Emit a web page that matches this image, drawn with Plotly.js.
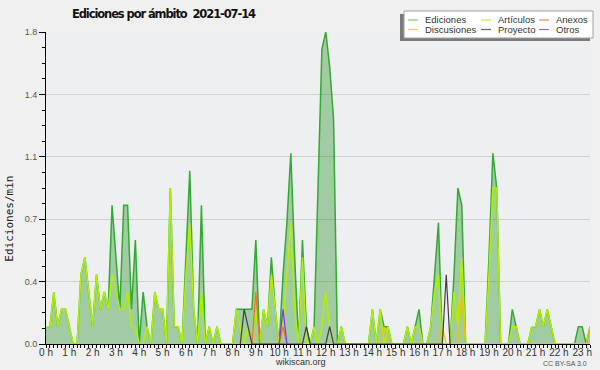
<!DOCTYPE html>
<html>
<head>
<meta charset="utf-8">
<script src="https://cdn.plot.ly/plotly-3.0.1.min.js"></script>
<style>
html, body { margin: 0; padding: 0; background: #f0f0f0; }
#chart { width: 600px; height: 370px; outline: 2px solid #aaaaaa; outline-offset: -2px; }
#chart .gtitle { letter-spacing: -1.1px; }
</style>
</head>
<body>
<div id="chart"></div>
<script>
// Ediciones por minuto, promedio por intervalo de 10 minutos (0:00 - 23:20)
const ediciones = [
  0.1,0.1,0.3,0.1,0.2,0.2,0.1,0,0,0.4,0.5,0.3,
  0.1,0.4,0.2,0.3,0.2,0.8,0.5,0.2,0.8,0.8,0.2,0.6,
  0,0.3,0.1,0,0.3,0.2,0.2,0,0.9,0.1,0.1,0,
  0.5,1.0,0.2,0,0.8,0,0.1,0,0.1,0,0,0,
  0,0.2,0.2,0.2,0.2,0.2,0.6,0,0.2,0.1,0.5,0.2,
  0,0.4,0.7,1.1,0.5,0,0.6,0.1,0,0.1,0.9,1.7,
  1.8,1.6,1.3,0,0.1,0,0,0,0,0,0,0,
  0.2,0,0.2,0.1,0.1,0,0,0,0,0.1,0,0.1,
  0.2,0,0,0.1,0.4,0.7,0,0,0,0.4,0.9,0.8,
  0,0,0,0,0,0,0.5,1.1,0.9,0,0,0,
  0.2,0.1,0,0,0,0.1,0.1,0.2,0.1,0.2,0.1,0,
  0,0,0,0,0,0.1,0.1,0,0.1
];
const articulos = [
  0.1,0.1,0.3,0.1,0.2,0.2,0.1,0,0,0.4,0.5,0.3,
  0.1,0.4,0.2,0.3,0.2,0.4,0.3,0.2,0.2,0.3,0.1,0.1,
  0,0,0.1,0,0.3,0.2,0.2,0,0.9,0.1,0.1,0,
  0.4,0.7,0.2,0,0.3,0,0.1,0,0.1,0,0,0,
  0,0.2,0.1,0,0.1,0,0.2,0,0.2,0.1,0.4,0.2,
  0,0.1,0.4,0.7,0.2,0,0.5,0,0,0.1,0,0.1,
  0.3,0.1,0,0,0.1,0,0,0,0,0,0,0,
  0.2,0,0.2,0,0.1,0,0,0,0,0.1,0,0.1,
  0.1,0,0,0.1,0.3,0.4,0,0,0,0.3,0.1,0.5,
  0,0,0,0,0,0,0.4,0.9,0.9,0,0,0,
  0.1,0.1,0,0,0,0.1,0.1,0.2,0.1,0.2,0.1,0,
  0,0,0,0,0,0,0,0,0
];
// Series dispersas: índice del intervalo de 10 min y valor
const anexosIdx = [53,54,55,60,61,62];
const anexosVal = [0,0.3,0,0,0.1,0];
const discusionesIdx = [86,87,88,101,102,103,106,107,108,139,140];
const discusionesVal = [0,0.1,0,0,0.1,0,0,0.3,0,0,0.1];
const proyectoIdx = [50,51,52,53,66,67,68,72,73,74,102,103,104];
const proyectoVal = [0,0.2,0.1,0,0,0.1,0,0,0.1,0,0,0.4,0];
const otrosIdx = [60,61,62];
const otrosVal = [0,0.2,0];

const xTickVals = [0,1,2,3,4,5,6,7,8,9,10,11,12,13,14,15,16,17,18,19,20,21,22,23];
const xTickText = ['0 h','1 h','2 h','3 h','4 h','5 h','6 h','7 h','8 h','9 h','10 h','11 h','12 h','13 h','14 h','15 h','16 h','17 h','18 h','19 h','20 h','21 h','22 h','23 h'];
const yTickVals = [0,0.36,0.72,1.08,1.44,1.8];
const yTickText = ['0.0','0.4','0.7','1.1','1.4','1.8'];

const seriesNames = ['Ediciones','Artículos','Anexos','Discusiones','Proyecto','Otros'];
const colors = {
  Ediciones: '#33aa33', Artículos: '#b0f000', Anexos: '#f07030',
  Discusiones: '#f0c400', Proyecto: '#404040', Otros: '#9030f0'
};
const legendColors = {
  Ediciones: '#77cc77', Artículos: '#c4f040', Anexos: '#f08a5a',
  Discusiones: '#f5d040', Proyecto: '#666666', Otros: '#a060f5'
};

const toHour = i => i / 6;
const horas = ediciones.map((_, i) => toHour(i));

const traces = [
  { x: horas, y: ediciones, type: 'scatter', mode: 'lines', name: 'Ediciones',
    line: { color: colors.Ediciones, width: 1.5 }, fill: 'tozeroy', fillcolor: 'rgba(45,150,45,0.40)',
    hoverinfo: 'skip', showlegend: false },
  { x: horas, y: articulos, type: 'scatter', mode: 'lines', name: 'Artículos',
    line: { color: colors['Artículos'], width: 1.5 }, hoverinfo: 'skip', showlegend: false },
  { x: discusionesIdx.map(toHour), y: discusionesVal, type: 'scatter', mode: 'lines', name: 'Discusiones',
    line: { color: colors.Discusiones, width: 1.2 }, hoverinfo: 'skip', showlegend: false },
  { x: anexosIdx.map(toHour), y: anexosVal, type: 'scatter', mode: 'lines', name: 'Anexos',
    line: { color: colors.Anexos, width: 1.2 }, hoverinfo: 'skip', showlegend: false },
  { x: proyectoIdx.map(toHour), y: proyectoVal, type: 'scatter', mode: 'lines', name: 'Proyecto',
    line: { color: colors.Proyecto, width: 1.2 }, hoverinfo: 'skip', showlegend: false },
  { x: otrosIdx.map(toHour), y: otrosVal, type: 'scatter', mode: 'lines', name: 'Otros',
    line: { color: colors.Otros, width: 1.2 }, hoverinfo: 'skip', showlegend: false }
];

// layout helpers: pixel -> paper
const PL = 46, PR = 590, PT = 32, PB = 344;
const px = x => (x - PL) / (PR - PL);
const py = y => (PB - y) / (PB - PT);

const shapes = [
  { type: 'rect', xref: 'paper', yref: 'paper', x0: px(400), x1: px(590), y0: py(41), y1: py(14),
    fillcolor: '#7a7a7a', line: { width: 0 }, layer: 'above' },
  { type: 'rect', xref: 'paper', yref: 'paper', x0: px(404), x1: px(593), y0: py(38), y1: py(11),
    fillcolor: '#ffffff', line: { color: '#a0a0a0', width: 1 }, layer: 'above' }
];
const annotations = [];
const legendPos = [
  [408, 20], [481, 20], [539, 20],
  [408, 29.5], [481, 29.5], [539, 29.5]
];
seriesNames.forEach((name, k) => {
  const [lx, ly] = legendPos[k];
  shapes.push({ type: 'line', xref: 'paper', yref: 'paper', x0: px(lx), x1: px(lx + 10), y0: py(ly), y1: py(ly),
    line: { color: legendColors[name], width: 1.2 }, layer: 'above' });
  annotations.push({ xref: 'paper', yref: 'paper', x: px(lx + 15), y: py(ly), xanchor: 'left', yanchor: 'middle',
    text: name, showarrow: false, font: { family: 'Liberation Sans, Arial, sans-serif', size: 9.5, color: '#333' } });
});
annotations.push({ xref: 'paper', yref: 'paper', x: px(10), y: py(218.7), text: 'Ediciones/min', textangle: -90,
  showarrow: false, xanchor: 'center', yanchor: 'middle',
  font: { family: 'DejaVu Sans Mono, monospace', size: 11, color: '#222' } });
annotations.push({ xref: 'paper', yref: 'paper', x: px(300), y: py(362), text: 'wikiscan.org',
  showarrow: false, xanchor: 'center', yanchor: 'middle',
  font: { family: 'Liberation Sans, Arial, sans-serif', size: 9, color: '#333' } });
annotations.push({ xref: 'paper', yref: 'paper', x: px(589), y: py(363), text: 'CC BY-SA 3.0',
  showarrow: false, xanchor: 'right', yanchor: 'middle',
  font: { family: 'Liberation Sans, Arial, sans-serif', size: 7, color: '#555' } });

const layout = {
  width: 600, height: 370,
  margin: { l: PL, r: 600 - PR, t: PT, b: 370 - PB, pad: 0 },
  paper_bgcolor: '#f0f0f0', plot_bgcolor: '#eeeff1',
  showlegend: false,
  title: { text: '<b>Ediciones por ámbito  2021-07-14</b>', xref: 'container', yref: 'container',
    x: 163.5 / 600, y: 1 - 14 / 370, xanchor: 'center', yanchor: 'middle',
    font: { family: 'DejaVu Sans, sans-serif', size: 11.5, color: '#111' } },
  xaxis: {
    range: [0, 140 / 6], tickmode: 'array', tickvals: xTickVals, ticktext: xTickText,
    ticks: 'outside', ticklen: 3, tickcolor: '#000', tickwidth: 1, ticklabelstandoff: -4,
    showline: true, linecolor: '#000', linewidth: 1, showgrid: false, zeroline: false,
    tickfont: { family: 'Liberation Sans, Arial, sans-serif', size: 10, color: '#333' },
    minor: { tickmode: 'linear', tick0: 0, dtick: 1 / 6, ticks: 'outside', ticklen: 3, tickcolor: '#000', showgrid: false },
    fixedrange: true
  },
  yaxis: {
    range: [0, 1.8], tickmode: 'array', tickvals: yTickVals, ticktext: yTickText,
    ticks: 'outside', ticklen: 6, tickcolor: '#000', tickwidth: 1,
    showline: true, linecolor: '#000', linewidth: 1, showgrid: true, gridcolor: '#cfcfcf', gridwidth: 1,
    zeroline: false,
    tickfont: { family: 'Liberation Sans, Arial, sans-serif', size: 9, color: '#555' },
    minor: { tickmode: 'linear', tick0: 0, dtick: 0.09, ticks: 'outside', ticklen: 3, tickcolor: '#000', showgrid: false },
    fixedrange: true
  },
  shapes: shapes,
  annotations: annotations
};

Plotly.newPlot('chart', traces, layout, { staticPlot: true, displayModeBar: false });
</script>
</body>
</html>
